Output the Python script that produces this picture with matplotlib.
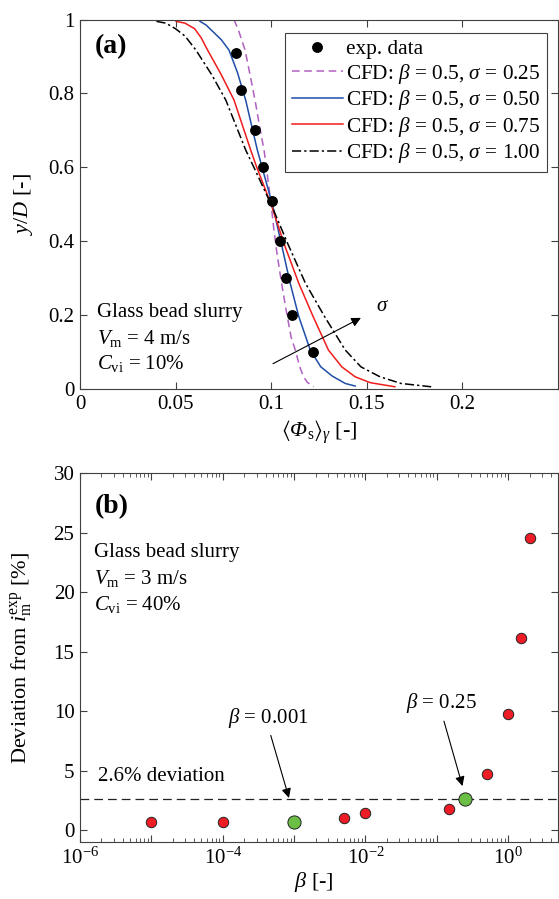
import numpy as np
import matplotlib
matplotlib.use('Agg')
import matplotlib.pyplot as plt
from matplotlib.ticker import FixedLocator, FixedFormatter, LogLocator, NullFormatter, FuncFormatter

plt.rcParams['font.family'] = ['Liberation Serif', 'DejaVu Serif']
plt.rcParams['mathtext.fontset'] = 'custom'
plt.rcParams['mathtext.rm'] = 'Liberation Serif'
plt.rcParams['mathtext.it'] = 'Liberation Serif:italic'
plt.rcParams['mathtext.bf'] = 'Liberation Serif:bold'
# sf slot used for the italic capital Phi (mathtext keeps Greek capitals upright in "it")
plt.rcParams['mathtext.sf'] = 'Liberation Serif:italic'
plt.rcParams['mathtext.fallback'] = 'stix'

# ---- panel (a): concentration profiles ----
exp_c = [0.0815, 0.0845, 0.0916, 0.096, 0.1006, 0.1046, 0.108, 0.111, 0.122]
exp_y = [0.91, 0.81, 0.70, 0.60, 0.51, 0.40, 0.30, 0.20, 0.10]

s025_c = [0.0806, 0.083, 0.0864, 0.089, 0.0916, 0.094, 0.0963, 0.0975, 0.100, 0.1015,
          0.103, 0.1055, 0.108, 0.1105, 0.1127, 0.115, 0.117, 0.119, 0.1223]
s025_y = [1.0, 0.97, 0.917, 0.85, 0.782, 0.71, 0.647, 0.60, 0.50, 0.43,
          0.37, 0.286, 0.21, 0.14, 0.105, 0.06, 0.033, 0.018, 0.006]

s050_c = [0.0628, 0.066, 0.070, 0.074, 0.078, 0.0825, 0.0867, 0.0928, 0.0953, 0.101,
          0.1055, 0.110, 0.1145, 0.1205, 0.126, 0.132, 0.1388, 0.144]
s050_y = [0.995, 0.985, 0.965, 0.945, 0.917, 0.855, 0.782, 0.647, 0.60, 0.493,
          0.39, 0.286, 0.196, 0.1055, 0.06, 0.035, 0.015, 0.008]

s075_c = [0.0503, 0.055, 0.060, 0.0635, 0.0668, 0.074, 0.0806, 0.0893, 0.0925, 0.100,
          0.107, 0.1145, 0.122, 0.130, 0.137, 0.144, 0.152, 0.1648]
s075_y = [0.995, 0.99, 0.975, 0.95, 0.917, 0.85, 0.782, 0.647, 0.60, 0.50,
          0.39, 0.286, 0.196, 0.1055, 0.06, 0.033, 0.017, 0.006]

s100_c = [0.040, 0.045, 0.050, 0.055, 0.0607, 0.069, 0.0763, 0.0867, 0.091, 0.100,
          0.109, 0.118, 0.128, 0.1388, 0.147, 0.157, 0.168, 0.1838]
s100_y = [0.995, 0.99, 0.975, 0.955, 0.917, 0.85, 0.782, 0.647, 0.60, 0.50,
          0.39, 0.286, 0.196, 0.1055, 0.06, 0.033, 0.015, 0.006]

xticks_a = [0, 0.05, 0.1, 0.15, 0.2]
xticklabels_a = ['0', '0.05', '0.1', '0.15', '0.2']
yticks_a = [0, 0.2, 0.4, 0.6, 0.8, 1.0]
yticklabels_a = ['0', '0.2', '0.4', '0.6', '0.8', '1']

# ---- panel (b): deviation vs beta ----
beta_red = [1e-5, 1e-4, 5e-3, 1e-2, 0.15, 0.5, 1.0, 1.5, 2.0]
dev_red = [0.7, 0.7, 1.05, 1.45, 1.8, 4.7, 9.8, 16.2, 24.6]
beta_green = [1e-3, 0.25]
dev_green = [0.7, 2.6]
dev_limit = 2.6

fig = plt.figure(figsize=(5.59, 8.99), dpi=100)
ax1 = fig.add_axes([0.1431, 0.5673, 0.8546, 0.4110])
ax2 = fig.add_axes([0.1431, 0.0631, 0.8551, 0.4104])

lw = 1.1
ax1.plot(s025_c, s025_y, color='#b060c0', ls=(0, (5, 3)), lw=lw, label=r'CFD: $\beta$ = 0.5, $\sigma$ = 0.25')
ax1.plot(s050_c, s050_y, color='#1f4ea8', lw=lw, label=r'CFD: $\beta$ = 0.5, $\sigma$ = 0.50')
ax1.plot(s075_c, s075_y, color='#f01c1c', lw=lw, label=r'CFD: $\beta$ = 0.5, $\sigma$ = 0.75')
ax1.plot(s100_c, s100_y, color='black', ls=(0, (6, 2, 1.5, 2)), lw=lw, label=r'CFD: $\beta$ = 0.5, $\sigma$ = 1.00')
ax1.plot(exp_c, exp_y, 'o', color='black', ms=6.8, label='exp. data', zorder=5)

h, l = ax1.get_legend_handles_labels()
order = [4, 0, 1, 2, 3]
leg = ax1.legend([h[i] for i in order], [l[i] for i in order], loc='upper right',
                 bbox_to_anchor=(0.977, 0.964), borderaxespad=0, fontsize=15.3,
                 handlelength=2.4, handletextpad=0.15, labelspacing=0.12,
                 borderpad=0.3, fancybox=False, framealpha=1, edgecolor='#404040')
leg.get_frame().set_linewidth(0.8)

ax1.annotate('', xy=(0.1483, 0.196), xytext=(0.0997, 0.065),
             arrowprops=dict(arrowstyle='-|>', color='black', lw=0.8, mutation_scale=14))
ax1.text(0.155, 0.223, r'$\sigma$', fontsize=15, ha='left', va='center')

ax1.set_xlim(0, 0.25)
ax1.set_ylim(0, 1)
ax1.xaxis.set_major_locator(FixedLocator(xticks_a))
ax1.xaxis.set_major_formatter(FixedFormatter(xticklabels_a))
ax1.yaxis.set_major_locator(FixedLocator(yticks_a))
ax1.yaxis.set_major_formatter(FixedFormatter(yticklabels_a))
ax1.set_xlabel(r'$\langle\mathsf{Φ}_{\mathrm{s}}\rangle_{\gamma}$ [-]', fontsize=16)
ax1.set_ylabel(r'$y/D$ [-]', fontsize=16)
ax1.xaxis.set_label_coords(0.5, -0.08)
ax1.yaxis.set_label_coords(-0.094, 0.5)
ax1.text(0.03, 0.928, '(a)', transform=ax1.transAxes, fontsize=20, fontweight='bold', va='center')
ax1.text(0.035, 0.208, 'Glass bead slurry', transform=ax1.transAxes, fontsize=15, va='center')
ax1.text(0.035, 0.138, r'$V_{\mathrm{m}}$ = 4 m/s', transform=ax1.transAxes, fontsize=15, va='center')
ax1.text(0.035, 0.068, r'$C_{\mathrm{vi}}$ = 10%', transform=ax1.transAxes, fontsize=15, va='center')

ax2.axhline(dev_limit, color='#222222', ls=(0, (7, 4)), lw=0.9)
ax2.plot(beta_red, dev_red, 'o', ms=7.5, mfc='#ee1c25', mec='#222222', mew=0.7, zorder=5)
ax2.plot(beta_green, dev_green, 'o', ms=9.5, mfc='#6cbf45', mec='#222222', mew=0.7, zorder=5)
ax2.set_xscale('log')
ax2.set_xlim(1e-6, 5)
ax2.set_ylim(-1, 30)
ax2.set_yticks([0, 5, 10, 15, 20, 25, 30])
ax2.xaxis.set_major_locator(LogLocator(base=10, numticks=20))
ax2.xaxis.set_minor_locator(LogLocator(base=10, subs=np.arange(2, 10), numticks=20))
ax2.xaxis.set_minor_formatter(NullFormatter())
ax2.xaxis.set_major_formatter(FuncFormatter(
    lambda v, p: (r'$10^{%d}$' % round(np.log10(v))) if round(np.log10(v)) % 2 == 0 else ''))

ax2.annotate('', xy=(8.7e-4, 2.5), xytext=(4.6e-4, 8.2),
             arrowprops=dict(arrowstyle='-|>', color='black', lw=0.8, mutation_scale=14))
ax2.annotate('', xy=(0.235, 3.5), xytext=(0.123, 9.4),
             arrowprops=dict(arrowstyle='-|>', color='black', lw=0.8, mutation_scale=14))
ax2.text(4.4e-4, 9.4, r'$\beta$ = 0.001', fontsize=15, ha='center', va='center')
ax2.text(0.116, 10.7, r'$\beta$ = 0.25', fontsize=15, ha='center', va='center')
ax2.text(1.8e-6, 4.55, '2.6% deviation', fontsize=15, ha='left', va='center')

ax2.set_xlabel(r'$\beta$ [-]', fontsize=16)
ax2.set_ylabel(r'Deviation from $i_{\mathrm{m}}^{\mathrm{exp}}$ [%]', fontsize=16)
ax2.xaxis.set_label_coords(0.49, -0.075)
ax2.yaxis.set_label_coords(-0.094, 0.5)
ax2.text(0.03, 0.91, '(b)', transform=ax2.transAxes, fontsize=20, fontweight='bold', va='center')
ax2.text(0.03, 0.786, 'Glass bead slurry', transform=ax2.transAxes, fontsize=15, va='center')
ax2.text(0.03, 0.716, r'$V_{\mathrm{m}}$ = 3 m/s', transform=ax2.transAxes, fontsize=15, va='center')
ax2.text(0.03, 0.644, r'$C_{\mathrm{vi}}$ = 40%', transform=ax2.transAxes, fontsize=15, va='center')

for ax in (ax1, ax2):
    for sp in ax.spines.values():
        sp.set_color('#404040')
        sp.set_linewidth(0.8)
    ax.tick_params(which='both', direction='in', top=True, right=True, color='#404040',
                   labelsize=15, pad=4)
    ax.tick_params(which='major', length=5, width=0.8)
    ax.tick_params(which='minor', length=3, width=0.6)

fig.savefig('out.png', dpi=100)
